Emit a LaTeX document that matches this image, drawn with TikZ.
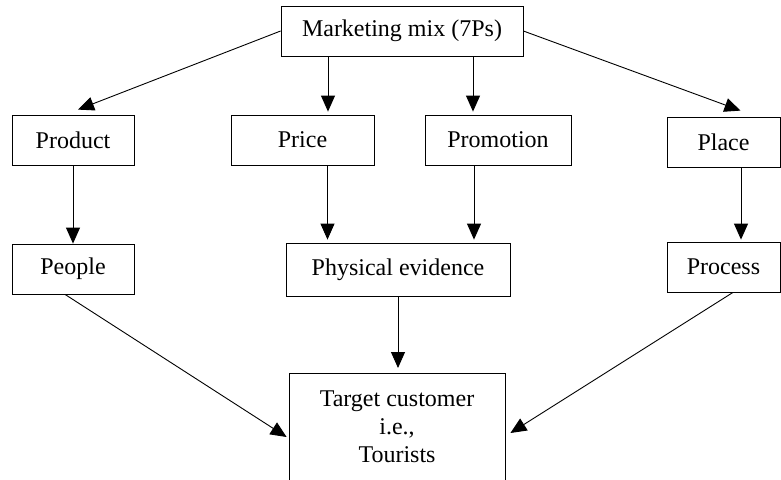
\documentclass[tikz,border=0pt]{standalone}
\usepackage{fontspec}
\setmainfont{Liberation Serif}
\usetikzlibrary{arrows.meta,calc}

\begin{document}
\begin{tikzpicture}[x=1pt, y=-1pt,
    box/.style={draw, line width=0.8pt, minimum height=50pt, inner sep=0pt, font=\fontsize{24}{28}\selectfont},
    arr/.style={-{Triangle[length=16pt, width=14pt]}, line width=0.9pt}]
    \useasboundingbox (0,0) rectangle (781,479);
    % top level
    \node[box, minimum width=242pt] (mix) at (402,31) {Marketing mix (7Ps)};
    % first four Ps
    \node[box, minimum width=122pt] (product) at (73,140) {Product};
    \node[box, minimum width=143pt] (price) at (302.5,140) {Price};
    \node[box, minimum width=146pt] (promotion) at (498,140) {Promotion};
    \node[box, minimum width=113pt] (place) at (723.5,142) {Place};
    % other three Ps
    \node[box, minimum width=122pt] (people) at (73,269) {People};
    \node[box, minimum width=224pt, minimum height=53pt] (physical) at (398,269.5) {Physical evidence};
    \node[box, minimum width=113pt] (process) at (723.5,267) {Process};
    % target
    \node[box, minimum width=216pt, anchor=north, align=center, inner ysep=17pt, text depth=11pt] (target) at (397,373) {Target customer\\ i.e.,\\ Tourists};
    % arrows
    \draw[arr] (mix.west) -- ($(product.north)+(5,-5)$);
    \draw[arr] (mix.east) -- ($(place.north)+(17,-6)$);
    \draw[arr] ($(mix.south)+(-74,0)$) -- ($(mix.south |- price.north)+(-74,-3)$);
    \draw[arr] ($(mix.south)+(71,0)$) -- ($(mix.south |- promotion.north)+(71,-3)$);
    \draw[arr] (product.south) -- (people.north);
    \draw[arr] ($(price.south)+(25,0)$) -- ($(price.south |- physical.north)+(25,-3)$);
    \draw[arr] ($(promotion.south)+(-24,0)$) -- ($(promotion.south |- physical.north)+(-24,-3)$);
    \draw[arr] ($(place.south)+(17.5,0)$) -- ($(place.south |- process.north)+(17.5,-2)$);
    \draw[arr] (physical.south) -- ($(physical.south |- target.north)+(0,-5)$);
    \draw[arr] ($(people.south)+(-8,0)$) -- ($(target.north west)+(-2,64)$);
    \draw[arr] ($(process.south)+(9.5,0)$) -- ($(target.north east)+(5,60)$);
\end{tikzpicture}
\end{document}
